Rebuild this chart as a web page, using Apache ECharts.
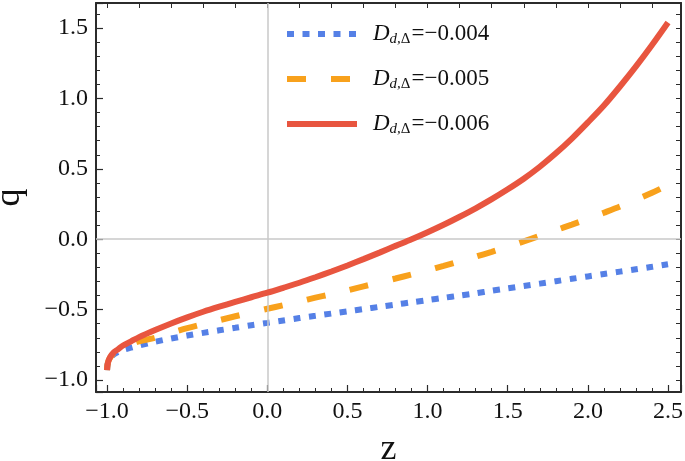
<!DOCTYPE html>
<html>
<head>
<meta charset="utf-8">
<script src="https://cdn.jsdelivr.net/npm/echarts@6/dist/echarts.min.js"></script>
<style>
html,body{margin:0;padding:0;background:#fff;}
#c{width:685px;height:461px;}
</style>
</head>
<body>
<div id="c"></div>
<script>
// ---- data ----
var zValues = [-1.0, -0.998, -0.995, -0.99, -0.98, -0.96, -0.93, -0.9, -0.85, -0.8,
  -0.7, -0.6, -0.5, -0.4, -0.3, -0.2, -0.1, 0.0, 0.1, 0.2, 0.3, 0.4, 0.5, 0.6, 0.7, 0.8, 0.9,
  1.0, 1.1, 1.2, 1.3, 1.4, 1.5, 1.6, 1.7, 1.8, 1.9, 2.0, 2.1, 2.2, 2.3, 2.4, 2.5];

var q004 = [-0.93, -0.90, -0.88, -0.865, -0.845, -0.82, -0.80, -0.785, -0.77, -0.755,
  -0.728, -0.705, -0.684, -0.665, -0.647, -0.629, -0.611, -0.594, -0.577, -0.56, -0.544, -0.528, -0.512, -0.496, -0.48, -0.464, -0.448,
  -0.432, -0.416, -0.40, -0.384, -0.366, -0.349, -0.332, -0.315, -0.298, -0.281, -0.264, -0.247, -0.23, -0.213, -0.196, -0.178];

var q005 = [-0.93, -0.90, -0.88, -0.86, -0.84, -0.81, -0.785, -0.765, -0.745, -0.725,
  -0.70, -0.665, -0.632, -0.603, -0.575, -0.547, -0.52, -0.494, -0.468, -0.442, -0.415, -0.39, -0.363, -0.335, -0.307, -0.279, -0.25,
  -0.22, -0.189, -0.157, -0.124, -0.089, -0.053, -0.015, 0.024, 0.064, 0.104, 0.145, 0.188, 0.232, 0.28, 0.33, 0.385];

var q006 = [-0.93, -0.90, -0.88, -0.86, -0.835, -0.805, -0.78, -0.755, -0.725, -0.695,
  -0.645, -0.598, -0.555, -0.515, -0.479, -0.445, -0.412, -0.38, -0.345, -0.309, -0.27, -0.229, -0.186, -0.141, -0.095, -0.047, 0.0,
  0.05, 0.103, 0.16, 0.22, 0.285, 0.355, 0.43, 0.515, 0.61, 0.715, 0.83, 0.95, 1.085, 1.228, 1.38, 1.54];

var seriesNames = ['-0.004', '-0.005', '-0.006'];
var seriesColors = ['#5580E6', '#F8A11C', '#E8553F'];
var xLimits = [-1.069, 2.581];
var yLimits = [-1.085, 1.678];

function pairs(xs, ys) { return xs.map(function (x, i) { return [x, ys[i]]; }); }
function fmt(v) {
  var s = Math.abs(v).toFixed(1);
  return (v < -1e-9 ? '\u2212' : '') + s;
}

var serif = 'Liberation Serif, Times New Roman, serif';
var frameColor = '#2b2b2b';

var chart = echarts.init(document.getElementById('c'), null, {renderer: 'canvas'});

var styles = [
  {type: [7, 8.5], width: 6},
  {type: [19, 25], width: 6},
  {type: 'solid', width: 6}
];
var allData = [q004, q005, q006];

var series = allData.map(function (arr, i) {
  var s = {
    name: seriesNames[i],
    type: 'line',
    data: pairs(zValues, arr),
    showSymbol: false,
    symbol: 'none',
    smooth: 0.3,
    silent: true,
    animation: false,
    z: 3 + i,
    lineStyle: {color: seriesColors[i], width: styles[i].width, type: styles[i].type, cap: 'butt'},
    itemStyle: {color: seriesColors[i]}
  };
  if (i === 0) {
    s.markLine = {
      silent: true,
      symbol: 'none',
      animation: false,
      label: {show: false},
      lineStyle: {color: '#c8c8c8', width: 1.5, type: 'solid'},
      data: [{xAxis: 0}, {yAxis: 0}]
    };
  }
  return s;
});

var option = {
  animation: false,
  backgroundColor: '#fff',
  grid: {left: 96, top: 3, width: 585, height: 389, containLabel: false, outerBoundsMode: 'none'},
  legend: {
    orient: 'vertical',
    left: 284,
    top: 21,
    padding: 0,
    itemWidth: 70,
    itemHeight: 20,
    itemGap: 19,
    selectedMode: false,
    data: seriesNames.map(function (n, i) {
      return {
        name: n,
        itemStyle: {opacity: 0},
        lineStyle: {color: seriesColors[i], width: 6, type: styles[i].type, cap: 'butt'}
      };
    }),
    formatter: function (name) {
      return '{i|D}{s|d,}{d|\u0394}{n|=\u2212' + name.replace('-', '') + '}';
    },
    textStyle: {
      padding: [0, 0, 0, 11],
      rich: {
        i: {fontFamily: serif, fontStyle: 'italic', fontSize: 23, color: '#111', lineHeight: 25},
        s: {fontFamily: serif, fontStyle: 'italic', fontSize: 15, color: '#111', lineHeight: 25, padding: [11, 0, 0, 0]},
        d: {fontFamily: serif, fontSize: 15, color: '#111', lineHeight: 25, padding: [11, 1, 0, 0]},
        n: {fontFamily: serif, fontSize: 23, color: '#111', lineHeight: 25}
      }
    }
  },
  xAxis: [
    {
      type: 'value', position: 'bottom', min: xLimits[0], max: xLimits[1], splitNumber: 7,
      name: 'z', nameLocation: 'middle', nameGap: 40,
      nameTextStyle: {fontFamily: serif, fontSize: 36, color: '#111'},
      axisLine: {show: true, onZero: false, lineStyle: {color: frameColor, width: 2}},
      axisTick: {show: true, inside: true, length: 7, lineStyle: {color: frameColor, width: 1.2}},
      minorTick: {show: true, splitNumber: 5, length: 4, lineStyle: {color: frameColor, width: 1}},
      axisLabel: {show: true, margin: 8, fontFamily: serif, fontSize: 24, color: '#111', formatter: fmt, showMinLabel: false, showMaxLabel: false},
      splitLine: {show: false}
    },
    {
      type: 'value', position: 'top', min: xLimits[0], max: xLimits[1], splitNumber: 18,
      axisLine: {show: true, onZero: false, lineStyle: {color: frameColor, width: 2}},
      axisTick: {show: true, inside: true, length: 5, lineStyle: {color: frameColor, width: 1}},
      axisLabel: {show: false},
      splitLine: {show: false}
    }
  ],
  yAxis: [
    {
      type: 'value', position: 'left', min: yLimits[0], max: yLimits[1], splitNumber: 5,
      name: 'q', nameLocation: 'middle', nameGap: 68, nameRotate: 90,
      nameTextStyle: {fontFamily: serif, fontSize: 36, color: '#111'},
      axisLine: {show: true, onZero: false, lineStyle: {color: frameColor, width: 2}},
      axisTick: {show: true, inside: true, length: 7, lineStyle: {color: frameColor, width: 1.2}},
      minorTick: {show: true, splitNumber: 5, length: 4, lineStyle: {color: frameColor, width: 1}},
      axisLabel: {show: true, margin: 8, fontFamily: serif, fontSize: 24, color: '#111', formatter: fmt, showMinLabel: false, showMaxLabel: false},
      splitLine: {show: false}
    },
    {
      type: 'value', position: 'right', min: yLimits[0], max: yLimits[1], splitNumber: 28,
      axisLine: {show: true, onZero: false, lineStyle: {color: frameColor, width: 2}},
      axisTick: {show: true, inside: true, length: 5, lineStyle: {color: frameColor, width: 1}},
      axisLabel: {show: false},
      splitLine: {show: false}
    }
  ],
  series: series
};

chart.setOption(option);
</script>
</body>
</html>
